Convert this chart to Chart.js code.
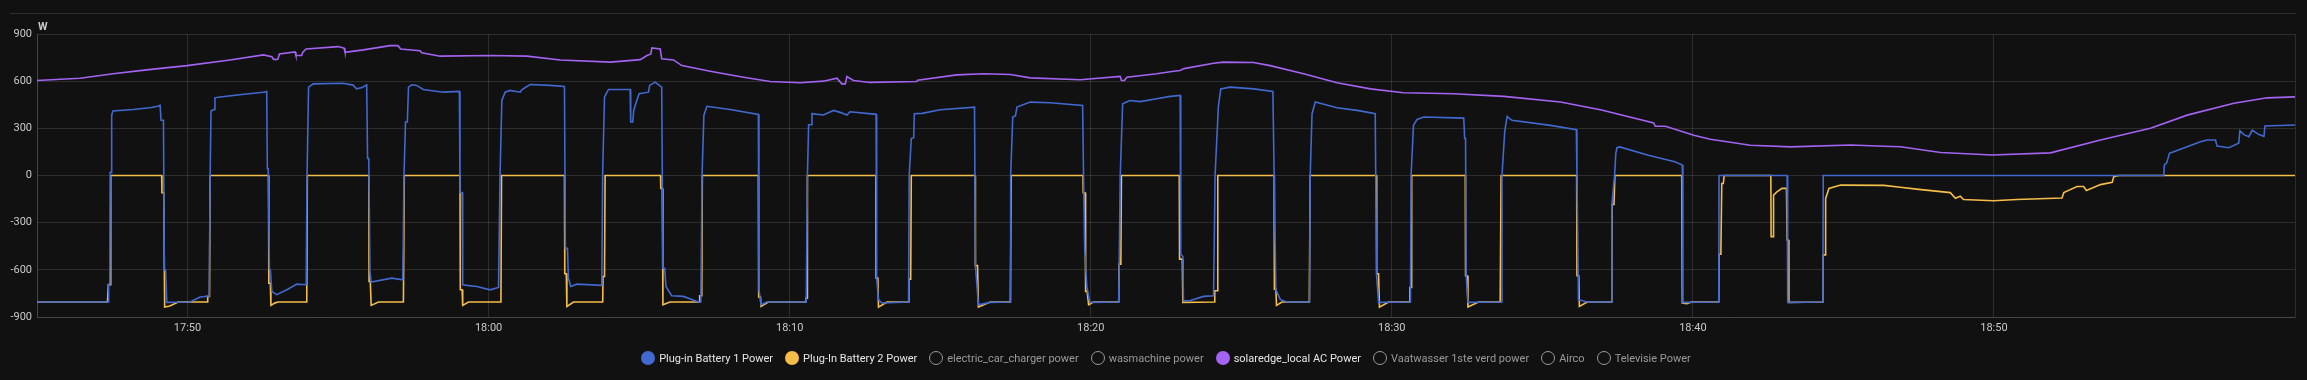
<!DOCTYPE html>
<html><head><meta charset="utf-8">
<script src="https://cdn.jsdelivr.net/npm/chart.js@4.4.1/dist/chart.umd.min.js"></script>
<style>
html,body{margin:0;padding:0;background:#111111;overflow:hidden;}
#wrap{position:relative;width:2307px;height:380px;background:#111111;}
#c{position:absolute;left:0;top:0;}
#legend{position:absolute;left:37px;width:2258px;top:350px;height:16px;display:flex;justify-content:center;align-items:center;font-family:Roboto,"Noto Sans",sans-serif;font-size:11px;white-space:nowrap;}
.li{display:flex;align-items:center;margin:0 6px;}
.dot{width:14px;height:14px;border-radius:50%;box-sizing:border-box;margin-right:4px;}
</style></head>
<body><div id="wrap"><canvas id="c" width="2307" height="380"></canvas><div id="legend"></div></div>
<script>
// time axis: minutes after 17:45
const startTime = '17:45';
const endOffset = 75;
const xTickLabels = ['17:50','18:00','18:10','18:20','18:30','18:40','18:50'];
const yTickValues = [-900,-600,-300,0,300,600,900];
const unitLabel = 'W';

const seriesNames = ['Plug-in Battery 1 Power','Plug-In Battery 2 Power','electric_car_charger power','wasmachine power','solaredge_local AC Power','Vaatwasser 1ste verd power','Airco','Televisie Power'];
const seriesColors = ['#4269d0','#f4bd4a','#ff725c','#6cc5b0','#a463f2','#3ca951','#ff8ab7','#97bbf5'];
const seriesVisible = [true,true,false,false,true,false,false,false];

// [minutes after 17:45, watts]
const battery1 = [[0,-805],[2.37,-805],[2.38,-690],[2.42,-690],[2.43,20],[2.47,20],[2.48,382],[2.52,410],[3.2,420],[3.8,432],[4.0,440],[4.09,446],[4.12,351],[4.2,351],[4.23,-600],[4.27,-600],[4.31,-807],[5.08,-805],[5.42,-773],[5.72,-767],[5.75,0],[5.78,410],[5.88,420],[5.91,494],[6.08,499],[6.8,515],[7.52,530],[7.63,535],[7.65,44],[7.68,44],[7.72,-596],[7.75,-600],[7.80,-737],[7.96,-758],[8.30,-727],[8.63,-691],[8.94,-695],[8.97,0],[9.02,562],[9.18,583],[10.17,587],[10.5,575],[10.61,551],[10.8,560],[10.95,577],[10.98,108],[11.02,108],[11.06,-611],[11.1,-678],[11.78,-653],[12.15,-663],[12.19,0],[12.24,340],[12.30,340],[12.34,562],[12.45,577],[12.61,573],
[12.83,547],[13.5,530],[14.03,535],[14.05,-108],[14.12,-108],[14.14,-695],[14.27,-699],[14.61,-706],[15.05,-727],[15.33,-712],[15.38,0],[15.44,477],[15.55,530],[15.71,541],[16.05,530],[16.1,545],[16.38,579],[17.04,573],[17.52,566],[17.55,-463],[17.62,-463],[17.65,-653],[17.73,-706],[17.93,-691],[18.76,-699],[18.79,34],[18.85,499],[18.98,547],[19.70,547],[19.72,340],[19.79,340],[19.82,414],[19.92,477],[20.0,520],[20.31,530],[20.35,573],[20.53,594],[20.75,562],[20.79,-590],[20.85,-590],[20.89,-706],[21.08,-765],[21.47,-769],[21.97,-805],[22.05,-805],[22.09,0],[22.15,382],[22.25,440],[23.02,420],[23.96,389],[23.98,-727],[24.05,-822],[24.24,-805],
[25.55,-805],[25.59,0],[25.63,323],[25.71,323],[25.74,393],[26.12,385],[26.46,414],[26.7,400],[26.9,385],[27.0,405],[27.87,389],[27.89,-649],[27.95,-790],[28.06,-811],[28.95,-805],[28.97,0],[29.04,235],[29.12,240],[29.14,393],[29.4,395],[30.0,418],[31.14,435],[31.17,-575],[31.27,-822],[31.66,-807],[32.33,-805],[32.34,0],[32.41,372],[32.50,380],[32.55,435],[32.99,467],[33.66,463],[34.73,446],[34.76,13],[34.80,-473],[34.87,-706],[34.97,-807],[35.93,-805],[35.98,0],[36.06,456],[36.3,477],[36.64,470],[37.19,488],[37.64,503],[37.97,509],
[37.99,-501],[38.06,-515],[38.08,-797],[38.31,-795],[38.75,-769],[39.08,-765],[39.13,0],[39.24,440],[39.32,551],[39.63,562],[40.41,551],[41.05,535],[41.09,20],[41.15,-727],[41.30,-790],[41.52,-805],[42.27,-805],[42.29,0],[42.35,393],[42.46,467],[43.18,431],[43.85,414],[44.45,393],[44.49,-621],[44.56,-807],[45.62,-805],[45.64,0],[45.72,319],[45.84,357],[46.06,372],[47.39,365],[47.42,235],[47.45,235],[47.47,-632],[47.53,-807],[48.64,-805],[48.66,0],[48.75,277],[48.83,376],[48.99,351],[50.27,319],
[51.13,292],[51.15,0],[51.2,-790],[51.49,-805],[52.29,-805],[52.31,-184],[52.40,0],[52.44,139],[52.48,177],[52.57,182],[53.52,129],[54.40,87],[54.65,66],[54.67,-807],[55.86,-805],[55.87,0],[58.13,0],[58.15,-807],[59.32,-805],[59.33,0],[70.64,0],
[70.66,67],[70.74,80],[70.83,141],[70.95,150],[71.86,215],[72.08,226],[72.36,226],[72.41,187],[72.80,177],[73.13,205],[73.17,285],[73.3,260],[73.47,247],[73.58,289],[73.80,260],[73.97,249],[74.0,315],[75,321]];

const battery2 = [[0,-805],[2.34,-805],[2.37,-695],[2.43,-695],[2.45,0],[4.14,0],[4.15,-110],[4.21,-110],[4.24,-837],[4.41,-830],[4.69,-805],[5.66,-805],[5.67,-769],[5.73,-769],[5.75,0],[7.69,0],[7.70,-685],[7.75,-685],[7.77,-826],[7.91,-810],[8.02,-805],[8.96,-805],[8.98,0],[11.02,0],[11.03,-674],[11.07,-674],[11.10,-826],[11.34,-805],[12.17,-805],[12.20,0],
[14.05,0],[14.06,-727],[14.12,-727],[14.14,-826],[14.33,-805],[15.41,-805],[15.43,0],[17.52,0],[17.53,-625],[17.58,-625],[17.60,-833],[17.82,-805],[18.79,-805],[18.80,-642],[18.85,-642],[18.87,0],[20.71,0],[20.72,-82],[20.77,-82],[20.79,-822],[21.02,-805],[22.00,-805],[22.01,-765],[22.08,-765],[22.10,0],[23.96,0],[23.97,-773],[24.03,-773],[24.05,-833],[24.29,-805],
[25.53,-805],[25.54,-780],[25.58,-780],[25.59,0],[27.86,0],[27.87,-653],[27.93,-653],[27.95,-837],[28.23,-805],[28.95,-805],[28.96,-659],[29.02,-659],[29.04,0],[31.16,0],[31.17,-573],[31.24,-573],[31.27,-837],[31.66,-805],[32.33,-805],[32.36,0],[34.74,0],[34.75,-110],[34.81,-110],[34.83,-737],[34.88,-737],[34.93,-822],[35.09,-805],[35.93,-805],[35.94,-564],[36.0,-564],[36.02,0],[37.94,0],[37.95,-532],[38.04,-532],[38.06,-807],[39.11,-805],[39.12,-733],[39.20,-733],[39.22,0],[41.09,0],[41.10,-723],[41.15,-723],[41.17,-826],[41.35,-805],[42.26,-805],[42.29,0],[44.49,0],[44.50,-625],[44.56,-625],[44.59,-837],[44.89,-805],[45.59,-805],[45.60,-712],[45.64,-712],[45.66,0],[47.44,0],[47.45,-638],[47.50,-638],[47.53,-837],[47.88,-805],[48.60,-805],[48.63,0],
[51.14,0],[51.15,-638],[51.21,-638],[51.23,-833],[51.49,-805],[52.31,-805],[52.32,-184],[52.38,-184],[52.41,0],[54.63,0],[54.65,-811],[54.8,-815],[54.95,-805],[55.86,-805],[55.87,-501],[55.93,-501],[55.96,-51],[56.01,-51],[56.04,0],[57.59,0],[57.60,-389],[57.67,-389],[57.68,-125],[57.79,-104],[57.96,-82],[58.11,-82],[58.13,-410],[58.17,-410],[58.19,-807],[59.32,-805],[59.33,-505],[59.39,-505],[59.41,-146],[59.52,-82],[59.91,-61],[61.35,-63],[61.89,-75],[62.5,-88],
[63.55,-109],[63.72,-145],[63.88,-132],[63.99,-153],[64.99,-161],[65.76,-153],[67.26,-143],[67.32,-109],[67.76,-70],[67.98,-70],[68.07,-95],[68.54,-58],[68.93,-43],[68.98,-7],[69.15,0],[75,0]];

const solarAC = [[0,604],[1.43,619],[2.53,647],[3.64,672],[4.98,699],[6.41,735],[7.52,767],[7.80,756],[7.85,740],[7.94,737],[8.0,740],[8.05,773],[8.57,786],[8.6,763],[8.79,763],[8.83,784],[8.94,805],[10.01,820],[10.2,810],[10.23,784],[10.84,799],[11.73,826],[11.99,826],[12.08,805],[12.72,794],[12.78,780],[13.39,759],[15.05,763],[16.27,759],[17.38,735],[19.05,721],[20.04,737],[20.26,763],[20.39,773],[20.42,811],[20.70,805],[20.75,742],[21.14,735],[21.42,699],[22.36,663],[23.47,625],[24.35,598],[25.35,590],
[26.12,600],[26.57,619],[26.73,583],[26.85,583],[26.90,630],[27.12,604],[27.67,592],[29.22,598],[29.25,606],[30.55,640],[31.44,647],[32.33,642],[32.99,621],[34.65,609],[35.98,630],[36.02,604],[36.12,604],[36.2,625],[37.19,647],[37.75,663],[37.97,668],[38.1,680],[39.08,714],[39.41,721],[40.41,719],[40.96,699],[42.07,647],[43.18,590],[44.29,551],[45.39,526],[47.06,520],[48.72,503],[50.60,467],[51.93,418],[53.70,334],[53.75,313],[54.09,313],[55.03,256],[55.58,230],[56.91,192],[58.24,182],[60.24,194],[61.35,186],[61.89,183],[63.23,146],[64.94,130],[66.88,144],[68.54,226],[70.20,300],[71.42,384],[72.97,459],[74.08,494],[75,500]];

const seriesData = [battery1, battery2, [], [], solarAC, [], [], []];

function toMin(s){const p=s.split(':');return (+p[0])*60+(+p[1]);}
const t0 = toMin(startTime);
const tickOffsets = xTickLabels.map(l=>toMin(l)-t0);

const GRID = 'rgba(255,255,255,0.12)';
const TXT = '#c9c9c9';

const datasets = seriesNames.map((n,i)=>({
  label:n,
  data:seriesData[i].map(p=>({x:p[0],y:p[1]})),
  borderColor:seriesColors[i],
  backgroundColor:seriesColors[i],
  borderWidth:1.6,
  pointRadius:0,
  tension:0,
  fill:false,
  hidden:!seriesVisible[i]
}));

const extras = {
  id:'extras',
  beforeDraw(chart){
    const ctx=chart.ctx;
    ctx.save();
    ctx.fillStyle='#111111';
    ctx.fillRect(0,0,chart.width,chart.height);
    ctx.strokeStyle=GRID;ctx.lineWidth=1;
    ctx.beginPath();ctx.moveTo(10,13.5);ctx.lineTo(2296,13.5);ctx.stroke();
    ctx.restore();
  },
  afterDraw(chart){
    const ctx=chart.ctx;
    ctx.save();
    ctx.fillStyle=TXT;
    ctx.font='bold 11px Roboto';
    ctx.textBaseline='alphabetic';
    ctx.fillText(unitLabel, chart.chartArea.left+1, 29.5);
    ctx.restore();
  }
};

const chart = new Chart(document.getElementById('c'),{
  type:'line',
  data:{datasets},
  options:{
    responsive:false,animation:false,
    layout:{padding:{left:0,right:12,top:34,bottom:0}},
    plugins:{legend:{display:false},tooltip:{enabled:false}},
    scales:{
      x:{type:'linear',min:0,max:endOffset,
        grid:{color:GRID,drawTicks:false},
        border:{color:GRID},
        afterBuildTicks(s){s.ticks=[0,...tickOffsets,endOffset].map(v=>({value:v}));},
        afterFit(s){s.height=63;},
        ticks:{autoSkip:false,maxRotation:0,padding:5,color:TXT,font:{family:'Roboto',size:11},
          callback(v){const i=tickOffsets.indexOf(v);return i>=0?xTickLabels[i]:'';}}
      },
      y:{min:-900,max:900,
        grid:{color:GRID,drawTicks:false},
        border:{color:GRID},
        afterBuildTicks(s){s.ticks=yTickValues.map(v=>({value:v}));},
        afterFit(s){s.width=37;},
        ticks:{padding:5,color:TXT,font:{family:'Roboto',size:11}}
      }
    }
  },
  plugins:[extras]
});

// HTML legend built from the datasets
const leg=document.getElementById('legend');
chart.data.datasets.forEach((d,i)=>{
  const it=document.createElement('div');it.className='li';
  const dot=document.createElement('span');dot.className='dot';
  if(seriesVisible[i]){dot.style.background=d.borderColor;}
  else{dot.style.border='1px solid #9a9a9a';}
  const tx=document.createElement('span');tx.textContent=d.label;
  tx.style.color=seriesVisible[i]?'#e6e6e6':'#9a9a9a';
  it.appendChild(dot);it.appendChild(tx);leg.appendChild(it);
});
</script></body></html>
